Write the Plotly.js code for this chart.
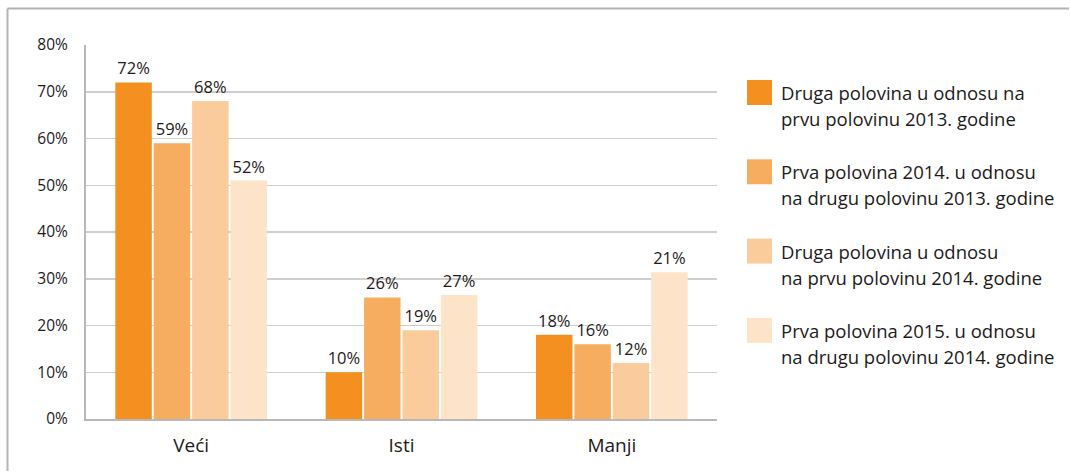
<!DOCTYPE html>
<html>
<head>
<meta charset="utf-8">
<script src="https://cdn.plot.ly/plotly-3.0.1.min.js"></script>
<style>
  html, body { margin: 0; padding: 0; background: #fff; overflow: hidden; }
  #chart { width: 1070px; height: 472px; }
</style>
</head>
<body>
<div id="chart"></div>
<script>
// categories and series
var categories = ['Veći', 'Isti', 'Manji'];

var seriesNames = [
  ['Druga polovina u odnosu na', 'prvu polovinu 2013. godine'],
  ['Prva polovina 2014. u odnosu', 'na drugu polovinu 2013. godine'],
  ['Druga polovina u odnosu', 'na prvu polovinu 2014. godine'],
  ['Prva polovina 2015. u odnosu', 'na drugu polovinu 2014. godine']
];

// bar heights as drawn in the picture
var s1 = [72, 10, 18];
var s2 = [59, 26, 16];
var s3 = [68, 19, 12];
var s4 = [51, 26.5, 31.4];

// labels printed above the bars
var l1 = ['72%', '10%', '18%'];
var l2 = ['59%', '26%', '16%'];
var l3 = ['68%', '19%', '12%'];
var l4 = ['52%', '27%', '21%'];

var colors = ['#F39020', '#F7AD60', '#FACC9C', '#FDE4C9'];

var values = [s1, s2, s3, s4];
var labels = [l1, l2, l3, l4];

var font = 'Open Sans, sans-serif';
var textColor = '#1e1a1b';

var data = values.map(function (v, i) {
  return {
    type: 'bar',
    x: categories,
    y: v,
    text: labels[i],
    textposition: 'outside',
    constraintext: 'none',
    cliponaxis: false,
    textfont: { family: font, size: 16.5, color: textColor },
    marker: { color: colors[i] },
    hoverinfo: 'skip',
    showlegend: false
  };
});

// plot area in pixels
var W = 1070, H = 472;
var L = 86, R = 717, T = 45, B = 419;
function px(x) { return (x - L) / (R - L); }
function py(y) { return (B - y) / (B - T); }

var frame = { color: '#b3b3b3', width: 2 };
var shapes = [
  // outer frame: only left and top edges are visible
  { type: 'line', xref: 'paper', yref: 'paper',
    x0: px(7.5), x1: px(7.5), y0: py(8.5), y1: py(471), line: frame, layer: 'below' },
  { type: 'line', xref: 'paper', yref: 'paper',
    x0: px(7.5), x1: px(1069), y0: py(8.5), y1: py(8.5), line: frame, layer: 'below' }
];
var annotations = [];

seriesNames.forEach(function (name, i) {
  var top = 80 + i * 79.3;
  shapes.push({
    type: 'rect', xref: 'paper', yref: 'paper',
    x0: px(747), x1: px(772), y0: py(top), y1: py(top + 25),
    line: { width: 0 }, fillcolor: colors[i]
  });
  name.forEach(function (line, j) {
    annotations.push({
      xref: 'paper', yref: 'paper',
      x: px(779), y: py(top + 12.5 + j * 26),
      xanchor: 'left', yanchor: 'middle',
      text: line, showarrow: false,
      font: { family: font, size: 18.5, color: textColor }
    });
  });
});

var layout = {
  width: W,
  height: H,
  margin: { l: L, r: W - R, t: T, b: H - B, pad: 0 },
  paper_bgcolor: '#fff',
  plot_bgcolor: '#fff',
  barmode: 'group',
  bargap: 0.27,
  bargroupgap: 0.05,
  showlegend: false,
  xaxis: {
    type: 'category',
    showline: true,
    linecolor: '#b8b8b8',
    linewidth: 2,
    ticks: '',
    ticklabelstandoff: 8,
    tickfont: { family: font, size: 19, color: textColor },
    fixedrange: true
  },
  yaxis: {
    range: [0, 80],
    dtick: 10,
    ticksuffix: '%',
    showline: true,
    linecolor: '#b8b8b8',
    linewidth: 2,
    showgrid: true,
    gridcolor: '#cfcfcf',
    gridwidth: 1.5,
    zeroline: false,
    ticks: '',
    ticklabelstandoff: 13,
    tickfont: { family: font, size: 15.5, color: textColor },
    fixedrange: true
  },
  shapes: shapes,
  annotations: annotations
};

Plotly.newPlot('chart', data, layout, { displayModeBar: false, staticPlot: true });
</script>
</body>
</html>
